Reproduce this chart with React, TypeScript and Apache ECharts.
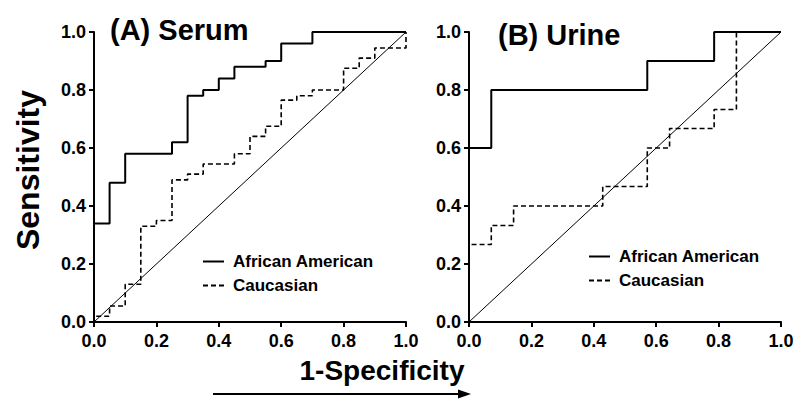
import React, { useEffect, useRef } from "react";
import * as echarts from "echarts";

// ---- Data ----
const serumAAFpr = [0, 0, 0.05, 0.1, 0.25, 0.3, 0.35, 0.4, 0.45, 0.55, 0.6, 0.7, 1.0];
const serumAATpr = [0, 0.34, 0.48, 0.58, 0.62, 0.78, 0.8, 0.84, 0.88, 0.9, 0.96, 1.0, 1.0];

const serumCaFpr = [0, 0, 0.05, 0.1, 0.15, 0.2, 0.25, 0.3, 0.35, 0.45, 0.5, 0.55, 0.6, 0.65, 0.7, 0.8, 0.85, 0.9, 1.0];
const serumCaTpr = [0, 0.02, 0.055, 0.13, 0.33, 0.35, 0.49, 0.51, 0.545, 0.58, 0.64, 0.675, 0.765, 0.78, 0.8, 0.875, 0.91, 0.945, 1.0];

const urineAAFpr = [0, 0, 0.0714, 0.5714, 0.7857, 1.0];
const urineAATpr = [0, 0.6, 0.8, 0.9, 1.0, 1.0];

const urineCaFpr = [0, 0, 0.0714, 0.1429, 0.4286, 0.5714, 0.6429, 0.7857, 0.8571, 1.0];
const urineCaTpr = [0, 0.267, 0.333, 0.4, 0.467, 0.6, 0.667, 0.733, 1.0, 1.0];

const diagonal = [0, 1];
const tickValues = ["0.0", "0.2", "0.4", "0.6", "0.8", "1.0"];
const panelTitles = ["(A) Serum", "(B) Urine"];
const seriesNames = ["African American", "Caucasian"];
const xAxisTitle = "1-Specificity";
const yAxisTitle = "Sensitivity";

const FONT = "Liberation Sans, Arial, Helvetica, sans-serif";

function pairs(xs: number[], ys: number[]) {
  return xs.map((x, i) => [x, ys[i]]);
}

export default function App() {
  const ref = useRef<HTMLDivElement>(null);

  useEffect(() => {
    if (!ref.current) return;
    const chart = echarts.init(ref.current, undefined, { renderer: "svg" });

    const labelCommon = {
      color: "#000",
      fontFamily: FONT,
      fontWeight: "bold" as const,
      fontSize: 18,
      formatter: (v: number) => tickValues[Math.round(v / 0.2)] ?? v.toFixed(1),
    };

    const axisCommon = {
      type: "value" as const,
      min: 0,
      max: 1,
      interval: 0.2,
      axisLine: { show: true, onZero: false, lineStyle: { color: "#000", width: 2 } },
      axisTick: { show: true, inside: false, length: 5, lineStyle: { color: "#000", width: 2 } },
      splitLine: { show: false },
    };

    const xAxisCommon = { ...axisCommon, axisLabel: { ...labelCommon, margin: 10 } };
    const yAxisCommon = { ...axisCommon, axisLabel: { ...labelCommon, margin: 8 } };

    const solid = { color: "#000", width: 2, type: "solid" as const };
    const dashed = { color: "#000", width: 1.6, type: [5, 3] as any };

    const makeSeries = (gi: number, aa: number[][], ca: number[][]) => [
      {
        name: seriesNames[0],
        type: "line",
        xAxisIndex: gi,
        yAxisIndex: gi,
        step: "end",
        symbol: "none",
        data: aa,
        lineStyle: solid,
        itemStyle: { color: "#000" },
        z: 3,
      },
      {
        name: seriesNames[1],
        type: "line",
        xAxisIndex: gi,
        yAxisIndex: gi,
        step: "end",
        symbol: "none",
        data: ca,
        lineStyle: dashed,
        itemStyle: { color: "#000" },
        z: 3,
      },
      {
        name: "diag" + gi,
        type: "line",
        xAxisIndex: gi,
        yAxisIndex: gi,
        symbol: "none",
        data: pairs(diagonal, diagonal),
        lineStyle: { color: "#000", width: 1 },
        itemStyle: { color: "#000" },
        z: 2,
      },
    ];

    const legendCommon = {
      orient: "vertical" as const,
      itemWidth: 21,
      itemHeight: 14,
      itemGap: 7,
      padding: 0,
      selectedMode: false,
      data: seriesNames,
      itemStyle: { opacity: 0, borderWidth: 0 },
      textStyle: {
        color: "#000",
        fontFamily: FONT,
        fontWeight: "bold" as const,
        fontSize: 17,
        padding: [0, 0, 0, 4],
      },
    };

    const arrowY = 394;

    chart.setOption({
      animation: false,
      backgroundColor: "#fff",
      title: [
        {
          text: panelTitles[0],
          left: 110,
          top: 15,
          padding: 0,
          textStyle: { fontFamily: FONT, fontWeight: "bold", fontSize: 29, color: "#000" },
        },
        {
          text: panelTitles[1],
          left: 498,
          top: 20,
          padding: 0,
          textStyle: { fontFamily: FONT, fontWeight: "bold", fontSize: 29, color: "#000" },
        },
      ],
      legend: [
        { ...legendCommon, left: 202, top: 253 },
        { ...legendCommon, left: 588, top: 248 },
      ],
      grid: [
        { left: 94, top: 32, width: 312, height: 290 },
        { left: 469, top: 32, width: 312, height: 290 },
      ],
      xAxis: [
        { ...xAxisCommon, gridIndex: 0 },
        { ...xAxisCommon, gridIndex: 1 },
      ],
      yAxis: [
        { ...yAxisCommon, gridIndex: 0 },
        { ...yAxisCommon, gridIndex: 1 },
      ],
      series: [
        ...makeSeries(0, pairs(serumAAFpr, serumAATpr), pairs(serumCaFpr, serumCaTpr)),
        ...makeSeries(1, pairs(urineAAFpr, urineAATpr), pairs(urineCaFpr, urineCaTpr)),
      ],
      graphic: [
        {
          type: "text",
          x: 28,
          y: 170,
          rotation: Math.PI / 2,
          style: {
            text: yAxisTitle,
            fill: "#000",
            font: `bold 32px ${FONT}`,
            align: "center",
            verticalAlign: "middle",
          },
        },
        {
          type: "text",
          x: 382,
          y: 370,
          style: {
            text: xAxisTitle,
            fill: "#000",
            font: `bold 28px ${FONT}`,
            align: "center",
            verticalAlign: "middle",
          },
        },
        {
          type: "line",
          shape: { x1: 213, y1: arrowY, x2: 462, y2: arrowY },
          style: { stroke: "#000", lineWidth: 2 },
        },
        {
          type: "polygon",
          shape: { points: [[471, arrowY], [458, arrowY - 4.5], [458, arrowY + 4.5]] },
          style: { fill: "#000" },
        },
      ],
    });

    return () => chart.dispose();
  }, []);

  return (
    <div
      ref={ref}
      style={{ position: "absolute", left: 0, top: 0, width: 798, height: 410 }}
    />
  );
}
